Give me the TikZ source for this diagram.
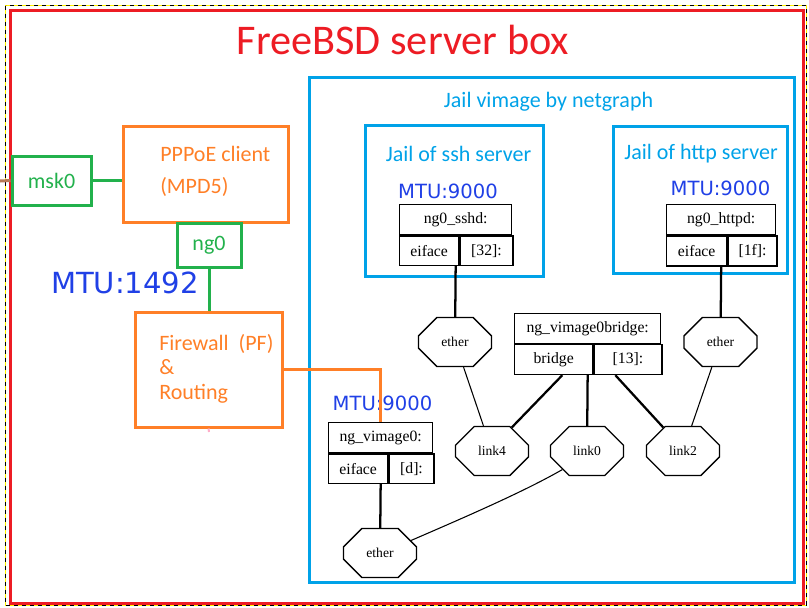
\documentclass[tikz,border=0pt]{standalone}
\usepackage{fontspec}
\setmainfont{Carlito}
\newfontfamily\mtufont{DejaVu Sans}
\newfontfamily\ngfont{Liberation Serif}
\usetikzlibrary{shapes.misc,positioning,calc}
\newdimen\pxu \pxu=0.75pt
\definecolor{bsdred}{HTML}{ED1C24}
\definecolor{pforange}{HTML}{FF7F27}
\definecolor{ifgreen}{HTML}{22B14C}
\definecolor{jailblue}{HTML}{00A2E8}
\definecolor{mtublue}{HTML}{2040E6}
\definecolor{wirebrown}{HTML}{B97A57}
\definecolor{tickpink}{HTML}{FFAEC9}

\begin{document}
\begin{tikzpicture}[x=0.75pt,y=-0.75pt,
  frame/.style={line width=2.25pt},
  obox/.style={draw=pforange,frame,inner sep=0pt},
  otext/.style={text=pforange,align=left,inner sep=0pt},
  gbox/.style={draw=ifgreen,frame,text=ifgreen,inner sep=0pt,font=\fontsize{16.5}{20}\selectfont},
  gline/.style={draw=ifgreen,frame},
  jtext/.style={text=jailblue,inner sep=0pt,font=\fontsize{16.5}{20}\selectfont},
  mtu/.style={text=mtublue,inner sep=0pt,font=\mtufont\fontsize{14.7}{18}\selectfont},
  cell/.style={draw,line width=1pt,inner sep=0pt,minimum height=29.5\pxu,font=\ngfont\fontsize{11.8}{14}\selectfont},
  oct/.style={chamfered rectangle,chamfered rectangle xsep=18\pxu,chamfered rectangle ysep=15\pxu,
    draw,line width=1pt,fill=white,inner sep=0pt,minimum width=73\pxu,minimum height=49\pxu,
    font=\ngfont\fontsize{10.2}{12}\selectfont},
  link/.style={line width=1.7pt},
  wire/.style={line width=0.8pt}]
\useasboundingbox (0,0) rectangle (809,607);
\draw[yellow,line width=0.75pt] (5.5,5.5) rectangle (806,605);
\draw[dash pattern=on 3pt off 3pt,line width=0.75pt] (5.5,5.5) rectangle (806,605);
\draw[bsdred,frame] (10.5,10.5) rectangle (803.5,603);
\node[text=bsdred,font=\fontsize{31.7}{38}\selectfont] (title) at (403,40) {FreeBSD server box};

\draw[jailblue,frame] (309,77) rectangle (794,582);
\node[jtext] (vimage) at (548.5,102) {Jail vimage by netgraph};
\draw[jailblue,frame] (365.5,125.5) rectangle (543,276);
\node[jtext] (sshjail) at (458.5,154) {Jail of ssh server};
\draw[jailblue,frame] (613,126) rectangle (787,273);
\node[jtext] (httpjail) at (701,154) {Jail of http server};

\node[obox,minimum width=165\pxu,minimum height=96\pxu] (pppoe) at (205.5,174) {};
\node[otext,anchor=west,font=\fontsize{16.5}{24}\selectfont] (pppoe-txt) at (160,171) {PPPoE client\\(MPD5)};
\node[obox,minimum width=147\pxu,minimum height=115\pxu] (fw) at (208.5,369.5) {};
\node[otext,anchor=west,font=\fontsize{16.5}{18.4}\selectfont] (fw-txt) at (159,368.5) {Firewall\ \ (PF)\\\&\\Routing};
\node[gbox,minimum width=79\pxu,minimum height=49\pxu] (msk0) at (51.5,180.5) {msk0};
\node[gbox,minimum width=64\pxu,minimum height=44\pxu] (ng0) at (209,245) {ng0};
\node[mtu,font=\mtufont\fontsize{21.8}{26}\selectfont] (mtu1492) at (125,283) {MTU:1492};

\coordinate (lan) at (0,181);
\coordinate (fwtick) at (209,432);
\draw[wirebrown,frame] (lan) -- (msk0.west);
\draw[gline] (msk0.east) -- (msk0.east -| pppoe.west);
\draw[gline] (ng0.south) -- (ng0.south |- fw.north);
\draw[tickpink,line width=1.5pt] (fw.south) -- (fwtick);

\node[mtu] (mtu-sshd) at (448,191) {MTU:9000};
\node[cell,minimum width=112\pxu,minimum height=30\pxu,anchor=north west] (sshd) at (399,204) {ng0\_sshd:};
\node[cell,minimum width=59\pxu,anchor=north west] (sshd-if) at (sshd.south west) {eiface};
\node[cell,minimum width=53\pxu,right=0pt of sshd-if] (sshd-port) {[32]:};

\node[mtu] (mtu-httpd) at (720.5,188) {MTU:9000};
\node[cell,minimum width=109\pxu,minimum height=30\pxu,anchor=north west] (httpd) at (666,204) {ng0\_httpd:};
\node[cell,minimum width=60\pxu,minimum height=30\pxu,anchor=north west] (httpd-if) at (httpd.south west) {eiface};
\node[cell,minimum width=49\pxu,minimum height=30\pxu,right=0pt of httpd-if] (httpd-port) {[1f]:};

\node[cell,minimum width=146\pxu,anchor=north west] (bridge) at (514,313) {ng\_vimage0bridge:};
\node[cell,minimum width=78\pxu,minimum height=30\pxu,anchor=north west] (bridge-if) at (bridge.south west) {bridge};
\node[cell,minimum width=68\pxu,minimum height=30\pxu,right=0pt of bridge-if] (bridge-port) {[13]:};

\node[mtu] (mtu-vim0) at (382.5,403) {MTU:9000};
\node[cell,minimum width=104\pxu,minimum height=30\pxu,anchor=north west] (vim0) at (328,422) {ng\_vimage0:};
\node[cell,minimum width=59\pxu,anchor=north west] (vim0-if) at (vim0.south west) {eiface};
\node[cell,minimum width=45\pxu,right=0pt of vim0-if] (vim0-port) {[d]:};

\node[oct] (ether1) at (455,342) {ether};
\node[oct] (ether2) at (720.5,342) {ether};
\node[oct] (link4) at (492,451) {link4};
\node[oct] (link0) at (587,451) {link0};
\node[oct] (link2) at (683,451) {link2};
\node[oct] (ether3) at (380,553) {ether};

\draw[pforange,frame] (fw.east) -| (vim0.north);
\draw[link] (sshd-if.south -| sshd.south) -- (ether1);
\draw[link] (httpd-if.south -| httpd.south) -- (ether2);
\draw[link] (vim0-if.south -| vim0.south) -- (ether3);
\draw[link] (bridge-if.south -| bridge.south) -- (link0);
\draw[link] ([xshift=-31\pxu]bridge-if.south east) -- (link4.50);
\draw[link] ([xshift=22\pxu]bridge-port.south west) -- (link2.130);
\draw[wire] (ether1) -- (link4);
\draw[wire] (ether2) -- (link2);
\draw[wire] (link0.217) .. controls (525,491) and (470,515) .. (ether3.22);
\end{tikzpicture}
\end{document}
